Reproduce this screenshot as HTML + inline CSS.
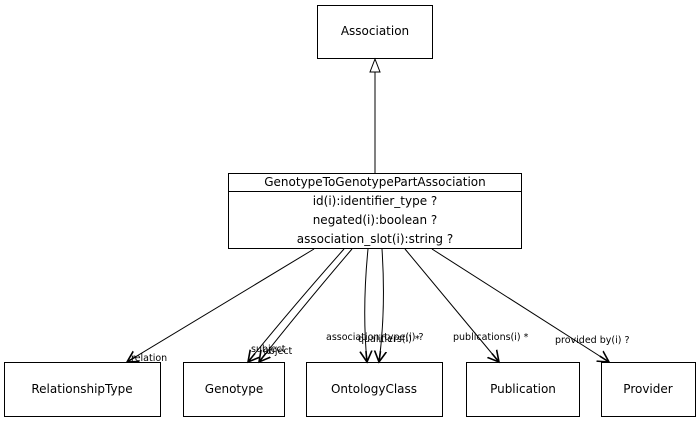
<!DOCTYPE html>
<html><head><meta charset="utf-8"><style>
body{margin:0;background:#fff;}
svg text{font-family:"DejaVu Sans","Liberation Sans",sans-serif;fill:#000;}
</style></head><body>
<svg width="700" height="423" viewBox="0 0 700 423" xmlns="http://www.w3.org/2000/svg">
<defs>
<marker id="a" markerWidth="14" markerHeight="14" refX="11" refY="7" orient="auto" markerUnits="userSpaceOnUse">
<path d="M0,1 L11,7 L0,13 M11,7 L0,7" fill="none" stroke="#000" stroke-width="1.6"/>
</marker>
</defs>
<g fill="#fff" stroke="#000" stroke-width="1">
<rect x="317.5" y="5.5" width="115" height="53"/>
<rect x="228.5" y="173.5" width="293" height="75"/>
<line x1="228.5" y1="191.5" x2="521.5" y2="191.5"/>
<rect x="4.5" y="362.5" width="156" height="54"/>
<rect x="183.5" y="362.5" width="101" height="54"/>
<rect x="306.5" y="362.5" width="136" height="54"/>
<rect x="466.5" y="362.5" width="113" height="54"/>
<rect x="601.5" y="362.5" width="94" height="54"/>
</g>
<g stroke="#000" fill="none" stroke-width="1">
<line x1="375" y1="173" x2="375" y2="72"/>
<polygon points="375,59 370,72 380,72" fill="#fff"/>
<line x1="314" y1="249" x2="127" y2="362" marker-end="url(#a)"/>
<path d="M344,249 Q290,310 248,362" marker-end="url(#a)"/>
<path d="M352,249 Q300,310 259,362" marker-end="url(#a)"/>
<path d="M368,249 Q362,310 367,362" marker-end="url(#a)"/>
<path d="M382,249 Q386,310 379,362" marker-end="url(#a)"/>
<line x1="405" y1="249" x2="499" y2="362" marker-end="url(#a)"/>
<line x1="432" y1="249" x2="609" y2="362" marker-end="url(#a)"/>
</g>
<g font-size="12" text-anchor="middle">
<text x="375" y="35">Association</text>
<text x="375" y="186">GenotypeToGenotypePartAssociation</text>
<text x="375" y="205">id(i):identifier_type ?</text>
<text x="375" y="224">negated(i):boolean ?</text>
<text x="375" y="243">association_slot(i):string ?</text>
<text x="82" y="393">RelationshipType</text>
<text x="234" y="393">Genotype</text>
<text x="374" y="393">OntologyClass</text>
<text x="523" y="393">Publication</text>
<text x="648" y="393">Provider</text>
</g>
<g font-size="9.5">
<text x="131" y="361">relation</text>
<text x="251" y="352">subject</text>
<text x="263" y="354">object</text>
<text x="326" y="340">association_type(i) ?</text>
<text x="358" y="342">qualifiers(i) *</text>
<text x="453" y="340">publications(i)  *</text>
<text x="555" y="343">provided by(i) ?</text>
</g>
</svg>
</body></html>
